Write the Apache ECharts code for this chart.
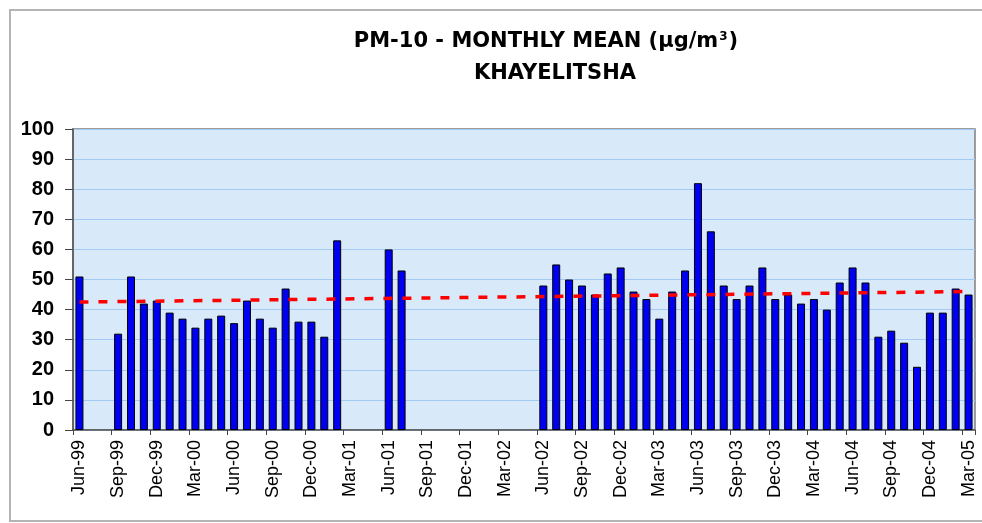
<!DOCTYPE html>
<html>
<head>
<meta charset="utf-8">
<script src="https://cdn.jsdelivr.net/npm/echarts@6/dist/echarts.min.js"></script>
<style>
html,body{margin:0;padding:0;background:#fff;}
#chart{width:982px;height:523px;}
</style>
</head>
<body>
<div id="chart"></div>
<script>
var months = [
  'Jun-99','Jul-99','Aug-99','Sep-99','Oct-99','Nov-99','Dec-99',
  'Jan-00','Feb-00','Mar-00','Apr-00','May-00','Jun-00','Jul-00','Aug-00','Sep-00','Oct-00','Nov-00','Dec-00',
  'Jan-01','Feb-01','Mar-01','Apr-01','May-01','Jun-01','Jul-01','Aug-01','Sep-01','Oct-01','Nov-01','Dec-01',
  'Jan-02','Feb-02','Mar-02','Apr-02','May-02','Jun-02','Jul-02','Aug-02','Sep-02','Oct-02','Nov-02','Dec-02',
  'Jan-03','Feb-03','Mar-03','Apr-03','May-03','Jun-03','Jul-03','Aug-03','Sep-03','Oct-03','Nov-03','Dec-03',
  'Jan-04','Feb-04','Mar-04','Apr-04','May-04','Jun-04','Jul-04','Aug-04','Sep-04','Oct-04','Nov-04','Dec-04',
  'Jan-05','Feb-05','Mar-05'
];
var pm10 = [
  51, null, null, 32, 51, 42, 43,
  39, 37, 34, 37, 38, 35.5, 43, 37, 34, 47, 36, 36,
  31, 63, null, null, null, 60, 53, null, null, null, null, null,
  null, null, null, null, null, 48, 55, 50, 48, 45, 52, 54,
  46, 43.5, 37, 46, 53, 82, 66, 48, 43.5, 48, 54, 43.5,
  45, 42, 43.5, 40, 49, 54, 49, 31, 33, 29, 21, 39,
  39, 47, 45
];
var trendStart = 42.5;
var trendEnd = 46;
var yTicks = [0, 100, 10];

var chart = echarts.init(document.getElementById('chart'), null, {renderer: 'canvas'});
var FONT = 'Liberation Sans, Arial, sans-serif';
var TFONT = 'DejaVu Sans, Liberation Sans, sans-serif';
chart.setOption({
  animation: false,
  backgroundColor: '#ffffff',
  title: [
    {
      text: '{a|PM-10 - MONTHLY MEAN (µg/m}{s|3}{a|)}',
      left: 541, top: 26, textAlign: 'center',
      textStyle: {
        rich: {
          a: {fontSize: 21, fontWeight: 'bold', fontFamily: TFONT, color: '#000'},
          s: {fontSize: 12, fontWeight: 'bold', fontFamily: TFONT, color: '#000', verticalAlign: 'top', padding: [0, 1, 0, 1]}
        }
      }
    },
    {
      text: 'KHAYELITSHA',
      left: 550, top: 58, textAlign: 'center',
      textStyle: {fontSize: 21, fontWeight: 'bold', fontFamily: TFONT, color: '#000'}
    }
  ],
  graphic: [
    {
      type: 'rect', z: -10, silent: true,
      shape: {x: 10, y: 10, width: 1000, height: 511},
      style: {fill: 'none', stroke: '#b4b4b4', lineWidth: 2}
    }
  ],
  grid: {
    left: 73, right: 7, top: 129, bottom: 93,
    show: true, backgroundColor: '#d8e9fa', borderColor: '#7f7f7f', borderWidth: 1.5
  },
  xAxis: {
    type: 'category',
    data: months,
    boundaryGap: true,
    axisLine: {lineStyle: {color: '#555', width: 1.5}},
    axisTick: {show: true, interval: 2, length: 5, lineStyle: {color: '#444'}},
    axisLabel: {
      interval: 2, rotate: 90, margin: 10,
      fontSize: 18, fontFamily: FONT, color: '#000'
    },
    splitLine: {show: false}
  },
  yAxis: {
    type: 'value',
    min: yTicks[0], max: yTicks[1], interval: yTicks[2],
    axisLine: {show: true, lineStyle: {color: '#555', width: 1.5}},
    axisTick: {show: true, inside: false, length: 8, lineStyle: {color: '#444'}},
    axisLabel: {fontSize: 20, fontWeight: 'bold', fontFamily: FONT, color: '#000', margin: 19},
    splitLine: {show: true, lineStyle: {color: '#a2caf2', width: 1.2}}
  },
  series: [
    {
      type: 'bar',
      data: pm10,
      barWidth: 8,
      itemStyle: {color: '#0000f0', borderColor: '#000', borderWidth: 1},
      markLine: {
        silent: true,
        symbol: ['none', 'none'],
        label: {show: false},
        lineStyle: {color: '#ff0000', width: 3.5, type: [9, 10]},
        data: [[
          {coord: [months[0], trendStart]},
          {coord: [months[months.length - 1], trendEnd]}
        ]]
      }
    }
  ]
});
</script>
</body>
</html>
